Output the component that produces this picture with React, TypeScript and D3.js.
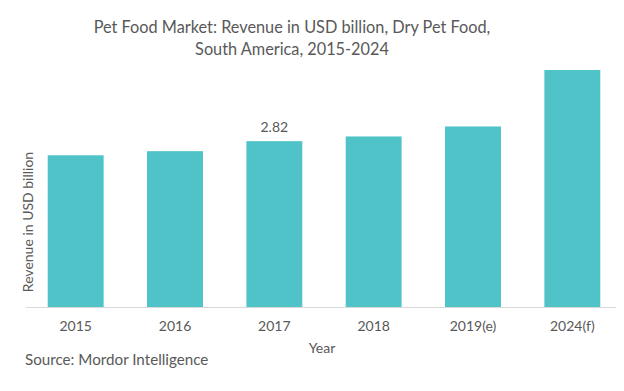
import {useEffect, useRef} from 'react';
import * as d3 from 'd3';

const years = ['2015', '2016', '2017', '2018', '2019(e)', '2024(f)'];
const revenue = [2.58, 2.65, 2.82, 2.9, 3.07, 4.03];
const labelled = ['2017'];
const titleLines = [
  'Pet Food Market: Revenue in USD billion, Dry Pet Food,',
  'South America, 2015-2024',
];

const App = () => {
  const svgRef = useRef<SVGSVGElement>(null);
  const width = 624;
  const height = 391;

  useEffect(() => {
    const svg = d3.select(svgRef.current);
    svg.selectAll('*').remove();

    const font = 'Lato, sans-serif';
    const textColor = '#595959';
    const margin = {top: 70, right: 2, bottom: 84, left: 26};
    const innerWidth = width - margin.left - margin.right;
    const innerHeight = height - margin.top - margin.bottom;

    // Scales
    const xScale = d3.scaleBand()
      .domain(years)
      .range([0, innerWidth])
      .paddingInner(0.437)
      .paddingOuter(0.2185);

    const yScale = d3.scaleLinear()
      .domain([0, d3.max(revenue)!])
      .range([innerHeight, 0]);

    const g = svg.append('g')
      .attr('transform', `translate(${margin.left}, ${margin.top})`);

    // Title
    svg.append('text')
      .attr('x', 292)
      .attr('y', 33)
      .style('text-anchor', 'middle')
      .style('font-family', font)
      .style('font-size', '16.3px')
      .style('fill', textColor)
      .selectAll('tspan')
      .data(titleLines)
      .enter().append('tspan')
      .attr('x', 292)
      .attr('dy', (d, i) => (i === 0 ? 0 : 22))
      .text(d => d);

    // Bars
    g.selectAll('.bar')
      .data(years)
      .enter().append('rect')
      .attr('class', 'bar')
      .attr('x', d => xScale(d)!)
      .attr('y', (d, i) => yScale(revenue[i]))
      .attr('width', xScale.bandwidth())
      .attr('height', (d, i) => innerHeight - yScale(revenue[i]))
      .attr('fill', '#50c3c8');

    // Value label
    g.selectAll('.value')
      .data(years.filter(d => labelled.includes(d)))
      .enter().append('text')
      .attr('class', 'value')
      .attr('x', d => xScale(d)! + xScale.bandwidth() / 2)
      .attr('y', d => yScale(revenue[years.indexOf(d)]) - 9)
      .style('text-anchor', 'middle')
      .style('font-family', font)
      .style('font-size', '14px')
      .style('fill', textColor)
      .text(d => revenue[years.indexOf(d)].toFixed(2));

    // X axis
    const xAxis = g.append('g')
      .attr('transform', `translate(0, ${innerHeight})`)
      .call(d3.axisBottom(xScale).tickSize(0).tickPadding(14));
    xAxis.select('.domain')
      .attr('stroke', '#d9d9d9')
      .attr('d', `M0,0.5H${innerWidth - 6}`);
    xAxis.selectAll('text')
      .style('font-family', font)
      .style('font-size', '14px')
      .style('fill', textColor);

    // X axis label
    svg.append('text')
      .attr('x', 322)
      .attr('y', 353)
      .style('text-anchor', 'middle')
      .style('font-family', font)
      .style('font-size', '14px')
      .style('fill', textColor)
      .text('Year');

    // Y axis label
    svg.append('text')
      .attr('transform', `translate(33, 222) rotate(-90)`)
      .style('text-anchor', 'middle')
      .style('font-family', font)
      .style('font-size', '14px')
      .style('fill', textColor)
      .text('Revenue in USD billion');

    // Source
    svg.append('text')
      .attr('x', 25)
      .attr('y', 365)
      .style('font-family', font)
      .style('font-size', '15.2px')
      .style('fill', textColor)
      .text('Source: Mordor Intelligence');
  }, []);

  return (
    <svg
      ref={svgRef}
      width={width}
      height={height}
      style={{position: 'absolute', left: 0, top: 0, background: '#fff'}}
    />
  );
};

export default App;
